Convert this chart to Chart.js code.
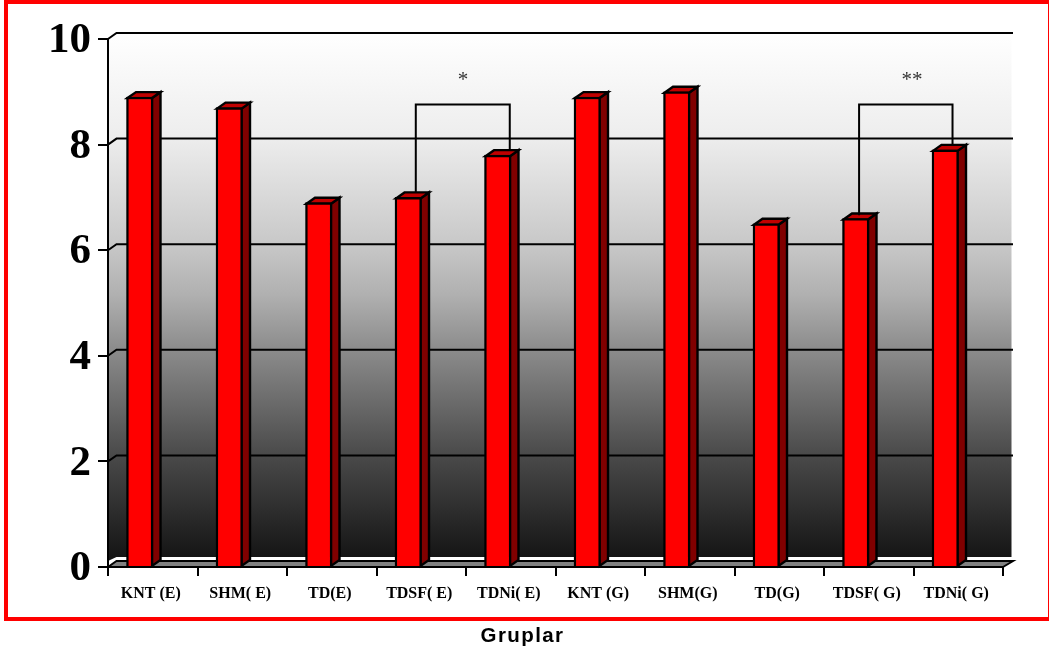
<!DOCTYPE html>
<html>
<head>
<meta charset="utf-8">
<title>Gruplar</title>
<script src="https://cdn.jsdelivr.net/npm/chart.js@4"></script>
<style>
html,body{margin:0;padding:0;background:#fff;overflow:hidden}
canvas{display:block}
</style>
</head>
<body>
<canvas id="chart" width="1049" height="655"></canvas>
<script>
const categories = ['KNT (E)','SHM( E)','TD(E)','TDSF( E)','TDNi( E)','KNT (G)','SHM(G)','TD(G)','TDSF( G)','TDNi( G)'];
const groupMeans = [8.9,8.7,6.9,7.0,7.8,8.9,9.0,6.5,6.6,7.9];
const axisTitle = 'Gruplar';

// Significance brackets, in category and value units
const bracketMarks = ['*','**'];
const bracketMarkX = [3.467,8.483];
const bracketMarkY = [9.11,9.11];
const bracketLeftX = [2.939,7.892];
const bracketRightX = [3.989,8.936];
const bracketTopY = [8.76,8.76];
const bracketLeftEndY = [7.1,6.66];
const bracketRightEndY = [7.9,8.0];

const DEPTH_X = 8.5, DEPTH_Y = 6;   // oblique depth of the pseudo-3D box
const BAR_SHIFT = -13;              // bars sit left of the category centre

function poly(ctx, pts, fill, stroke, lw){
  ctx.beginPath();
  pts.forEach((p,i)=> i ? ctx.lineTo(p[0],p[1]) : ctx.moveTo(p[0],p[1]));
  ctx.closePath();
  if(fill){ctx.fillStyle=fill;ctx.fill();}
  if(stroke){ctx.strokeStyle=stroke;ctx.lineWidth=lw;ctx.lineJoin='miter';ctx.stroke();}
}

// Red frame round the figure, back wall, side wall, floor and receding grid lines
const boxPlugin = {
  id:'box',
  beforeDraw(chart){
    const {ctx,chartArea:a,scales:{y}} = chart;
    ctx.save();
    ctx.fillStyle='#fff';
    ctx.fillRect(0,0,chart.width,chart.height);
    ctx.strokeStyle='#ff0000';
    ctx.lineWidth=4;
    ctx.strokeRect(6,2,1044,617);

    const wallTop=a.top-DEPTH_Y, wallBottom=a.bottom-10;
    const g=ctx.createLinearGradient(0,wallTop,0,wallBottom);
    g.addColorStop(0,'#ffffff');
    g.addColorStop(0.2,'#ededed');
    g.addColorStop(0.403,'#c8c8c8');
    g.addColorStop(0.5,'#b0b0b0');
    g.addColorStop(0.603,'#8c8c8c');
    g.addColorStop(0.805,'#4a4a4a');
    g.addColorStop(1,'#151515');
    poly(ctx,[[a.left,a.top],[a.left+DEPTH_X,wallTop],[a.right+DEPTH_X,wallTop],[a.right+DEPTH_X,wallBottom],[a.left+DEPTH_X,wallBottom],[a.left,wallBottom+4]],g);

    poly(ctx,[[a.left,a.bottom],[a.left+DEPTH_X,a.bottom-DEPTH_Y],[a.right+DEPTH_X,a.bottom-DEPTH_Y],[a.right,a.bottom]],'#808080');

    ctx.strokeStyle='#000';
    ctx.lineWidth=2;
    y.ticks.forEach(t=>{
      const py=y.getPixelForValue(t.value);
      ctx.beginPath();
      ctx.moveTo(a.left,py);
      ctx.lineTo(a.left+DEPTH_X,py-DEPTH_Y);
      ctx.lineTo(a.right+DEPTH_X+1.5,py-DEPTH_Y);
      if(t.value===0) ctx.lineTo(a.right,py);
      ctx.stroke();
    });
    ctx.restore();
  },
  beforeDatasetsDraw(chart){
    const ctx=chart.ctx;
    ctx.save();
    ctx.translate(BAR_SHIFT,0);
    chart.getDatasetMeta(0).data.forEach(bar=>{
      const l=bar.x-bar.width/2+1, r=bar.x+bar.width/2-1, t=bar.y+1, b=bar.base;
      poly(ctx,[[r,t],[r+DEPTH_X,t-DEPTH_Y],[r+DEPTH_X,b-DEPTH_Y],[r,b]],'#800000','#000',2.4);
      poly(ctx,[[l,t],[l+DEPTH_X,t-DEPTH_Y],[r+DEPTH_X,t-DEPTH_Y],[r,t]],'#c00000','#000',2.4);
    });
  },
  afterDatasetsDraw(chart){
    const {ctx,scales:{x,y}} = chart;
    ctx.restore();
    ctx.save();
    ctx.strokeStyle='#000';
    ctx.lineWidth=2;
    bracketMarks.forEach((mark,i)=>{
      const lx=x.getPixelForValue(bracketLeftX[i]), rx=x.getPixelForValue(bracketRightX[i]);
      ctx.beginPath();
      ctx.moveTo(lx,y.getPixelForValue(bracketLeftEndY[i]));
      ctx.lineTo(lx,y.getPixelForValue(bracketTopY[i]));
      ctx.lineTo(rx,y.getPixelForValue(bracketTopY[i]));
      ctx.lineTo(rx,y.getPixelForValue(bracketRightEndY[i]));
      ctx.stroke();
      ctx.fillStyle='#333';
      ctx.font='21px "Liberation Serif"';
      ctx.textAlign='center';
      ctx.textBaseline='alphabetic';
      ctx.fillText(mark,x.getPixelForValue(bracketMarkX[i]),y.getPixelForValue(bracketMarkY[i]));
    });
    ctx.restore();
  }
};

new Chart(document.getElementById('chart'),{
  type:'bar',
  data:{
    labels:categories,
    datasets:[{
      data:groupMeans,
      backgroundColor:'#ff0000',
      borderColor:'#000',
      borderWidth:2.4,
      barThickness:26.5
    }]
  },
  options:{
    responsive:false,
    animation:false,
    layout:{padding:{top:39,right:46,left:0,bottom:0}},
    plugins:{legend:{display:false},tooltip:{enabled:false}},
    scales:{
      x:{
        afterFit(s){
          s.height=88;
          if(!s._spaced){
            s._spaced=true;
            const drawTitle=s.drawTitle;
            // The axis caption is letter-spaced and sits left of the plot centre
            s.drawTitle=function(){
              this.ctx.save();
              this.ctx.translate(-33,0);
              this.ctx.letterSpacing='1.4px';
              drawTitle.call(this);
              this.ctx.restore();
            };
          }
        },
        border:{display:true,color:'#000',width:2},
        grid:{drawOnChartArea:false,drawTicks:true,tickLength:9,color:'#000',lineWidth:2},
        ticks:{
          autoSkip:false,maxRotation:0,minRotation:0,padding:8,labelOffset:-2,color:'#000',
          font:{family:'"Liberation Serif"',size:16,weight:'bold'}
        },
        title:{
          display:true,text:axisTitle,color:'#000',align:'center',
          font:{family:'"Liberation Sans"',size:20.5,weight:'bold'},
          padding:{top:0,bottom:6}
        }
      },
      y:{
        min:0,max:10,
        afterFit(s){s.width=108;},
        border:{display:true,color:'#000',width:2},
        grid:{drawOnChartArea:false,drawTicks:true,tickLength:10,color:'#000',lineWidth:2},
        ticks:{
          stepSize:2,padding:7,labelOffset:2,color:'#000',
          font:{family:'"Liberation Serif"',size:43,weight:'bold'}
        }
      }
    }
  },
  plugins:[boxPlugin]
});
</script>
</body>
</html>
